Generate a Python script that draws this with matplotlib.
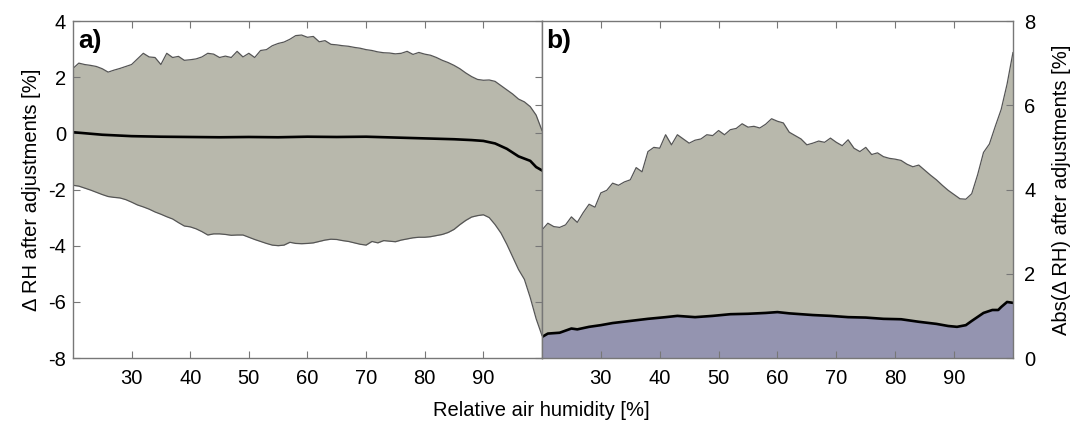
import numpy as np
import matplotlib
matplotlib.use("Agg")
import matplotlib.pyplot as plt

plt.rcParams['font.family'] = ['Liberation Sans', 'DejaVu Sans']
plt.rcParams['axes.unicode_minus'] = False

# panel a: spread of RH difference after adjustments
rh_a = list(range(20, 101))
upper_a = [2.31, 2.5, 2.45, 2.42, 2.38, 2.3, 2.18, 2.25, 2.31, 2.38,
           2.45, 2.65, 2.85, 2.72, 2.7, 2.45, 2.85, 2.7, 2.74, 2.6,
           2.62, 2.65, 2.72, 2.85, 2.82, 2.7, 2.75, 2.7, 2.92, 2.72,
           2.85, 2.7, 2.95, 2.98, 3.12, 3.2, 3.25, 3.35, 3.48, 3.5,
           3.42, 3.45, 3.26, 3.3, 3.17, 3.15, 3.12, 3.1, 3.06, 3.03,
           2.98, 2.95, 2.9, 2.87, 2.86, 2.83, 2.85, 2.92, 2.81, 2.88,
           2.82, 2.78, 2.7, 2.6, 2.52, 2.42, 2.3, 2.15, 2.02, 1.92,
           1.89, 1.9, 1.85, 1.7, 1.55, 1.4, 1.22, 1.12, 0.95, 0.65,
           0.1]
lower_a = [-1.85, -1.88, -1.95, -2.02, -2.1, -2.18, -2.25, -2.28, -2.3, -2.36,
           -2.45, -2.55, -2.62, -2.7, -2.8, -2.88, -2.97, -3.05, -3.18, -3.3,
           -3.33, -3.4, -3.5, -3.62, -3.58, -3.58, -3.6, -3.63, -3.62, -3.62,
           -3.7, -3.78, -3.85, -3.92, -3.98, -4.0, -3.98, -3.88, -3.92, -3.93,
           -3.92, -3.9, -3.85, -3.8, -3.77, -3.78, -3.82, -3.85, -3.9, -3.95,
           -3.98, -3.85, -3.9, -3.82, -3.84, -3.86, -3.8, -3.76, -3.72, -3.7,
           -3.7, -3.68, -3.64, -3.6, -3.53, -3.42, -3.25, -3.1, -2.98, -2.93,
           -2.9, -3.0, -3.25, -3.55, -3.95, -4.4, -4.85, -5.2, -5.85, -6.6,
           -7.2]
rh_mean_a = [20, 25, 30, 35, 40, 45, 50, 55, 60, 65, 70, 75, 80, 85, 88,
             90, 92, 94, 96, 98, 99, 100]
mean_a = [0.04, -0.05, -0.1, -0.12, -0.13, -0.14, -0.13, -0.14, -0.12, -0.13,
          -0.12, -0.15, -0.18, -0.21, -0.24, -0.27, -0.36, -0.55, -0.82, -0.98,
          -1.2, -1.32]

# panel b: absolute RH difference
rh_b = list(range(20, 101))
upper_b = [3.04, 3.2, 3.12, 3.1, 3.16, 3.35, 3.22, 3.45, 3.65, 3.58,
           3.92, 3.98, 4.15, 4.1, 4.18, 4.23, 4.52, 4.42, 4.9, 5.0,
           4.98, 5.3, 5.06, 5.3, 5.2, 5.1, 5.17, 5.2, 5.3, 5.28,
           5.4, 5.3, 5.42, 5.45, 5.56, 5.48, 5.5, 5.46, 5.55, 5.68,
           5.62, 5.58, 5.36, 5.28, 5.2, 5.06, 5.1, 5.15, 5.12, 5.22,
           5.12, 5.04, 5.18, 4.98, 4.9, 5.0, 4.83, 4.87, 4.78, 4.74,
           4.72, 4.69, 4.6, 4.54, 4.58, 4.46, 4.34, 4.23, 4.1, 3.98,
           3.88, 3.78, 3.77, 3.9, 4.35, 4.88, 5.08, 5.5, 5.9, 6.5,
           7.25]
rh_mean_b = [20, 21, 23, 25, 26, 28, 30, 32, 35, 38, 41, 43, 46, 49, 52, 55,
             58, 60, 62, 64, 66, 69, 72, 75, 78, 81, 84, 87, 89, 90.5, 92, 93,
             95, 96.5, 97.5, 98, 99, 100]
mean_b = [0.5, 0.58, 0.6, 0.7, 0.68, 0.74, 0.78, 0.83, 0.88, 0.93, 0.97, 1.0,
          0.97, 1.0, 1.04, 1.05, 1.07, 1.09, 1.06, 1.04, 1.02, 1.0, 0.97, 0.96,
          0.93, 0.92, 0.86, 0.81, 0.76, 0.74, 0.78, 0.88, 1.07, 1.14, 1.14,
          1.21, 1.33, 1.31]

xticks = [30, 40, 50, 60, 70, 80, 90]
gray_fill = '#b8b8ac'
blue_fill = '#9494b0'
edge = '#555555'
spine_col = '#777777'
fs = 14.5

fig = plt.figure(figsize=(10.76, 4.26), dpi=100)
ax1 = fig.add_axes([0.0678, 0.1596, 0.4359, 0.7911])
ax2 = fig.add_axes([0.5037, 0.1596, 0.4377, 0.7911])

# panel a
ax1.fill_between(rh_a, lower_a, upper_a, color=gray_fill, lw=0)
ax1.plot(rh_a, upper_a, color=edge, lw=0.9)
ax1.plot(rh_a, lower_a, color=edge, lw=0.9)
ax1.plot(rh_mean_a, mean_a, color='black', lw=1.9)
ax1.set_xlim(20, 100)
ax1.set_ylim(-8, 4)
ax1.set_yticks([4, 2, 0, -2, -4, -6, -8])
ax1.set_ylabel('\u0394 RH after adjustments [%]', fontsize=fs, labelpad=5)
ax1.text(0.012, 0.975, 'a)', transform=ax1.transAxes, fontsize=19,
         fontweight='bold', va='top', ha='left')

# panel b
mb = np.interp(rh_b, rh_mean_b, mean_b)
ax2.fill_between(rh_b, mb, upper_b, color=gray_fill, lw=0)
ax2.fill_between(rh_mean_b, 0, mean_b, color=blue_fill, lw=0)
ax2.plot(rh_b, upper_b, color=edge, lw=0.9)
ax2.plot(rh_mean_b, mean_b, color='black', lw=1.9)
ax2.set_xlim(20, 100)
ax2.set_ylim(0, 8)
ax2.set_yticks([0, 2, 4, 6, 8])
ax2.yaxis.set_label_position('right')
ax2.set_ylabel('Abs(\u0394 RH) after adjustments [%]', fontsize=fs,
               labelpad=12)
ax2.text(0.008, 0.975, 'b)', transform=ax2.transAxes, fontsize=19,
         fontweight='bold', va='top', ha='left')

for ax in (ax1, ax2):
    ax.set_xticks(xticks)
    ax.tick_params(axis='both', direction='in', top=True, length=5,
                   width=0.8, color=spine_col, labelsize=fs)
    ax.tick_params(axis='x', pad=8)
    for s in ax.spines.values():
        s.set_color(spine_col)
        s.set_linewidth(1.0)

ax1.tick_params(axis='y', right=True, labelright=False, pad=5)
ax2.tick_params(axis='y', left=False, labelleft=False, right=True,
                labelright=True, pad=8)

# ticks of panel b's left axis that point into panel a
sec = ax1.secondary_yaxis('right', functions=(lambda v: (v + 8) * 2 / 3,
                                               lambda v: v * 1.5 - 8))
sec.set_yticks([2, 4, 6])
sec.tick_params(direction='in', length=5, width=0.8, color=spine_col,
                labelright=False)
sec.spines['right'].set_visible(False)

fig.text(0.503, 0.037, 'Relative air humidity [%]', ha='center',
         va='center', fontsize=fs)

fig.savefig('out.png', dpi=100)
